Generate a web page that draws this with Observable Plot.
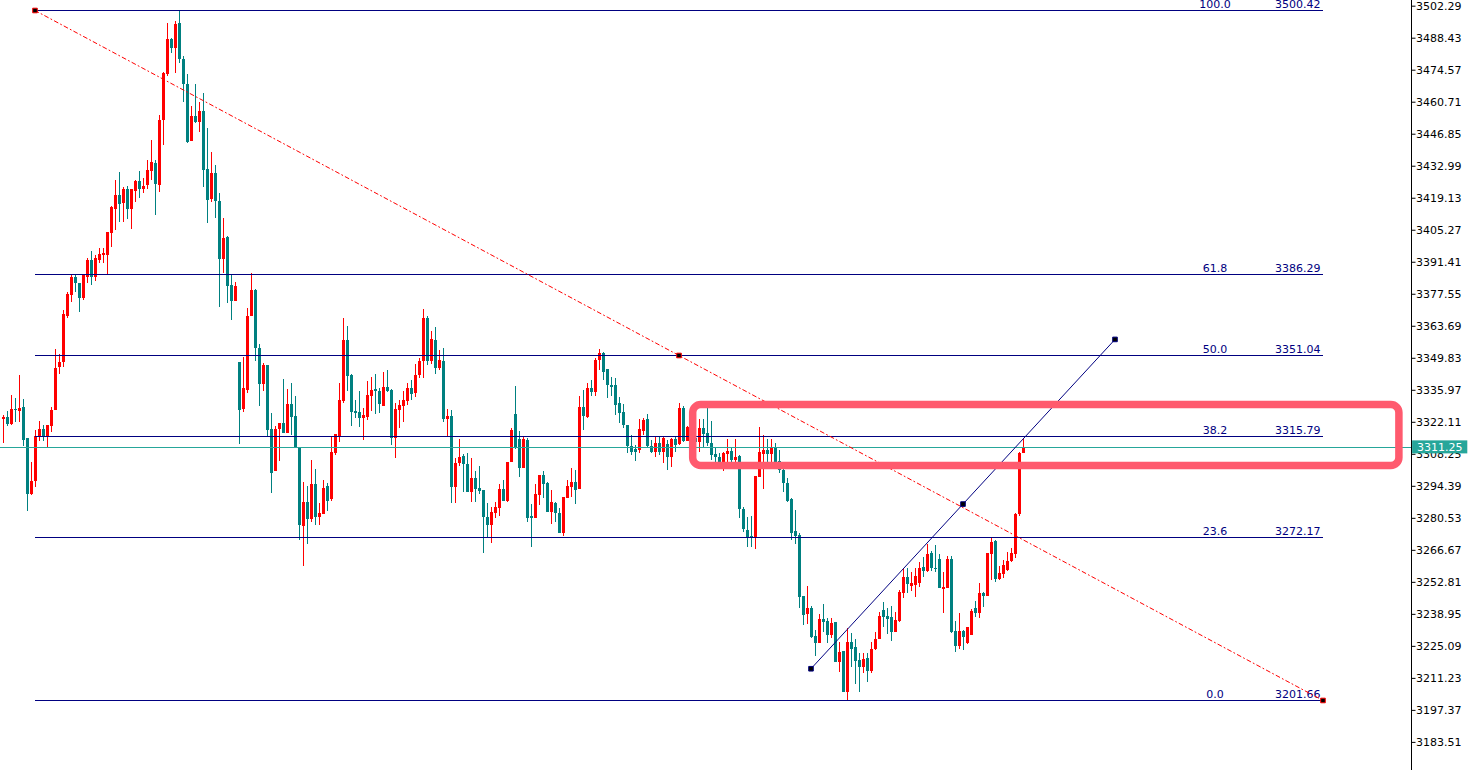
<!DOCTYPE html>
<html>
<head>
<meta charset="utf-8">
<script src="https://cdn.jsdelivr.net/npm/d3@7"></script>
<script src="https://cdn.jsdelivr.net/npm/@observablehq/plot@0.6"></script>
<style>
  html, body { margin: 0; padding: 0; background: #ffffff; overflow: hidden; }
  #chart svg { display: block; }
</style>
</head>
<body>
<div id="chart"></div>
<script>
// ---- Candle data (index = bar number, prices) ----
const open = [
3323.32,3324.19,3321.16,3327.65,3326.79,3328.52,3315.10,3290.85,3296.48,3315.96,
3318.99,3315.96,3320.29,3327.22,3345.84,3348.00,3367.92,3377.01,3384.81,3382.21,
3375.72,3384.81,3392.17,3384.81,3392.17,3394.34,3394.34,3403.86,3414.25,3420.32,
3416.85,3422.91,3414.25,3422.05,3426.38,3422.91,3424.64,3430.71,3434.17,3424.64,
3452.79,3472.71,3487.86,3483.97,3494.79,3479.20,3468.38,3443.70,3454.52,3451.92,
3456.69,3431.57,3418.58,3429.84,3417.72,3392.60,3402.13,3381.35,3374.42,3348.00,
3327.65,3335.88,3367.92,3379.18,3354.07,3338.48,3346.71,3318.99,3300.81,3318.99,
3321.59,3317.26,3329.82,3324.62,3311.20,3277.00,3287.38,3280.02,3295.18,3280.89,
3282.19,3294.31,3288.68,3308.60,3315.53,3331.12,3357.53,3342.38,3326.79,3326.35,
3323.76,3324.19,3333.28,3336.31,3335.45,3328.95,3337.18,3335.88,3315.10,3327.22,
3328.95,3331.12,3336.75,3334.58,3342.38,3348.44,3367.06,3348.44,3357.53,3345.41,
3348.44,3323.32,3324.62,3293.88,3304.27,3307.30,3303.84,3291.71,3297.78,3293.45,
3292.58,3280.89,3277.43,3282.62,3284.79,3293.01,3287.82,3304.70,3325.49,3314.66,
3302.11,3314.23,3281.32,3280.46,3290.42,3299.08,3295.61,3283.05,3286.95,3282.62,
3273.96,3289.12,3293.88,3296.04,3293.01,3328.52,3324.19,3336.75,3335.01,3348.87,
3351.90,3344.97,3338.05,3338.05,3330.25,3326.35,3320.73,3311.63,3310.33,3309.90,
3318.13,3323.32,3311.63,3309.03,3312.93,3309.03,3312.50,3306.87,3314.66,3312.50,
3328.09,3313.80,3319.86,3315.10,3313.36,3319.43,3317.26,3312.93,3308.17,3306.87,
3304.70,3308.17,3309.47,3305.57,3307.30,3284.35,3275.26,3272.66,3272.23,3298.21,
3308.17,3309.90,3308.17,3311.20,3305.14,3301.24,3295.61,3288.68,3274.82,3273.10,
3246.68,3238.89,3241.49,3229.36,3226.33,3236.72,3235.86,3229.80,3235.42,3218.10,
3222.87,3205.11,3226.76,3224.60,3218.97,3215.94,3219.84,3214.21,3223.73,3228.06,
3240.62,3238.02,3237.59,3231.09,3235.86,3247.98,3254.91,3251.01,3251.44,3252.31,
3259.24,3257.51,3265.30,3258.81,3262.70,3249.71,3250.15,3262.70,3231.53,3225.03,
3231.53,3226.33,3229.80,3241.49,3239.32,3247.98,3246.68,3264.87,3270.50,3254.04,
3256.21,3257.94,3261.84,3264.87,3282.19,3308.60
];
const high = [
3325.06,3326.79,3333.72,3332.42,3342.38,3331.98,3315.10,3304.70,3318.56,3322.46,
3320.73,3320.73,3328.52,3353.63,3351.47,3370.52,3378.31,3385.68,3385.68,3382.21,
3386.11,3393.04,3396.07,3394.34,3397.37,3397.37,3404.29,3415.55,3426.81,3430.27,
3423.78,3424.21,3422.91,3426.81,3430.71,3427.68,3435.47,3444.13,3435.47,3454.96,
3473.57,3494.79,3488.30,3495.66,3500.42,3480.50,3472.71,3458.85,3468.38,3460.58,
3464.48,3449.33,3438.93,3433.31,3421.18,3410.36,3402.56,3385.68,3382.64,3348.00,
3350.17,3371.39,3386.54,3379.61,3355.80,3347.57,3346.71,3325.92,3320.29,3321.59,
3340.64,3336.31,3338.91,3333.28,3311.20,3296.04,3294.31,3305.57,3301.67,3286.95,
3296.91,3295.61,3315.96,3316.83,3338.91,3367.06,3363.59,3342.81,3331.55,3335.45,
3328.09,3339.78,3341.51,3342.81,3336.75,3343.67,3344.54,3336.31,3330.25,3331.55,
3335.45,3338.91,3340.21,3347.14,3349.74,3370.95,3367.92,3361.43,3363.16,3353.20,
3354.07,3327.65,3327.22,3306.44,3314.66,3308.17,3308.60,3306.44,3300.81,3302.97,
3292.58,3286.95,3285.22,3287.38,3295.18,3296.91,3304.70,3319.43,3337.61,3318.13,
3315.53,3315.10,3286.52,3295.18,3299.08,3300.81,3296.04,3292.58,3287.38,3284.79,
3289.55,3296.91,3302.11,3301.24,3333.28,3335.88,3338.91,3340.21,3349.74,3353.63,
3352.33,3344.97,3341.51,3341.08,3332.85,3329.82,3320.73,3316.40,3312.07,3323.32,
3323.76,3325.49,3314.23,3315.53,3315.53,3315.53,3314.23,3315.10,3315.53,3330.25,
3328.95,3320.29,3322.89,3318.56,3323.32,3323.32,3328.09,3322.46,3310.77,3308.60,
3309.03,3314.66,3311.20,3314.66,3307.74,3285.22,3280.89,3281.32,3298.64,3319.86,
3316.40,3314.66,3314.66,3312.93,3309.90,3302.11,3297.78,3289.12,3283.92,3273.96,
3246.68,3251.01,3242.35,3231.96,3238.89,3243.22,3237.16,3237.16,3235.42,3226.76,
3222.87,3232.83,3230.66,3228.06,3222.00,3222.00,3222.00,3226.76,3231.09,3239.75,
3244.08,3241.49,3242.35,3239.75,3249.28,3258.81,3258.81,3257.07,3258.81,3261.40,
3263.57,3269.20,3266.17,3268.77,3264.87,3257.07,3264.00,3264.00,3235.86,3239.32,
3231.96,3233.26,3241.05,3244.52,3252.31,3248.41,3265.30,3272.23,3270.93,3259.67,
3262.27,3265.73,3267.47,3282.62,3309.03,3314.66
];
const low = [
3312.93,3320.29,3320.73,3322.02,3322.02,3311.63,3283.49,3290.42,3293.88,3313.80,
3313.80,3311.20,3317.69,3327.22,3342.81,3345.84,3367.06,3373.98,3378.31,3369.65,
3374.85,3382.21,3381.35,3383.08,3390.87,3390.87,3386.11,3397.80,3405.16,3408.62,
3408.62,3409.92,3405.59,3417.28,3419.02,3421.18,3422.91,3426.81,3411.66,3421.61,
3441.97,3471.84,3481.80,3473.14,3477.47,3460.58,3442.83,3443.70,3451.49,3447.59,
3423.78,3408.19,3417.28,3410.36,3371.82,3386.54,3373.55,3366.19,3374.42,3312.50,
3326.35,3334.58,3367.92,3348.44,3328.95,3335.45,3315.53,3291.28,3300.81,3305.14,
3317.26,3317.26,3316.40,3310.77,3270.93,3259.67,3269.20,3278.72,3277.43,3277.43,
3282.19,3283.49,3287.82,3307.74,3313.36,3330.25,3335.45,3320.29,3323.76,3319.86,
3314.23,3322.89,3326.79,3325.49,3325.92,3328.95,3335.01,3312.07,3306.44,3319.43,
3322.02,3329.39,3331.55,3332.85,3341.08,3341.08,3346.71,3347.14,3342.81,3344.54,
3322.02,3315.53,3286.95,3286.95,3302.97,3291.71,3291.71,3287.38,3287.38,3290.85,
3265.30,3272.23,3269.63,3280.46,3281.32,3287.82,3287.38,3304.70,3310.33,3298.21,
3302.11,3278.72,3267.90,3280.46,3286.09,3289.12,3283.05,3277.86,3278.72,3273.96,
3272.66,3289.12,3289.55,3286.52,3293.01,3318.56,3323.76,3333.28,3333.28,3344.54,
3340.21,3332.42,3333.28,3325.06,3321.59,3319.43,3308.60,3307.74,3305.14,3308.60,
3316.40,3311.20,3308.60,3306.87,3307.74,3304.27,3301.24,3302.54,3309.03,3312.07,
3313.36,3313.80,3312.50,3311.63,3309.03,3311.20,3311.63,3305.57,3304.70,3303.41,
3300.81,3304.70,3304.27,3304.27,3280.46,3274.39,3267.90,3267.90,3267.03,3298.21,
3293.01,3303.41,3303.41,3303.41,3299.94,3291.71,3287.38,3270.93,3269.20,3241.49,
3234.13,3234.56,3228.50,3220.70,3226.33,3231.09,3226.33,3228.50,3218.10,3213.77,
3205.11,3201.66,3215.94,3208.58,3205.11,3213.34,3209.44,3213.34,3223.30,3228.06,
3233.26,3230.23,3227.20,3231.09,3235.42,3245.82,3247.98,3248.85,3246.25,3250.58,
3254.91,3257.07,3257.51,3257.07,3250.15,3239.32,3250.15,3230.66,3222.43,3223.73,
3223.30,3225.90,3229.80,3237.59,3237.16,3241.92,3246.68,3253.61,3252.74,3253.61,
3254.48,3257.51,3261.40,3263.14,3281.32,3308.60
];
const close = [
3324.19,3321.16,3327.65,3327.22,3328.09,3314.23,3290.85,3296.48,3315.96,3318.99,
3315.96,3320.73,3327.22,3345.41,3348.00,3368.79,3377.45,3384.81,3382.21,3375.72,
3385.68,3392.17,3384.81,3393.04,3394.77,3395.20,3404.29,3415.12,3420.32,3416.42,
3422.91,3414.25,3422.91,3426.38,3422.91,3424.21,3431.14,3434.60,3425.08,3452.79,
3473.14,3487.86,3483.97,3494.36,3479.20,3468.38,3443.26,3454.52,3451.92,3456.69,
3431.14,3418.15,3429.84,3417.72,3392.60,3401.70,3380.91,3374.42,3380.91,3327.22,
3336.75,3367.92,3379.18,3354.07,3338.48,3346.71,3318.56,3299.94,3318.99,3321.59,
3317.26,3329.82,3324.19,3310.77,3277.43,3287.38,3280.02,3295.18,3280.89,3282.62,
3293.45,3287.82,3309.03,3316.83,3331.55,3357.53,3341.94,3326.35,3325.92,3323.76,
3325.06,3333.72,3335.88,3335.45,3329.82,3337.18,3335.45,3315.10,3327.65,3329.39,
3331.55,3336.75,3334.15,3342.38,3348.44,3367.06,3348.44,3357.96,3345.41,3348.87,
3323.32,3324.62,3293.88,3304.27,3306.87,3303.84,3291.71,3297.78,3293.01,3292.15,
3280.89,3277.43,3283.05,3285.22,3293.01,3287.82,3304.70,3318.56,3310.77,3302.11,
3314.66,3280.46,3280.46,3290.85,3299.08,3295.18,3283.05,3287.38,3282.62,3273.96,
3289.55,3294.31,3296.04,3292.58,3328.52,3324.62,3336.75,3335.01,3348.87,3351.90,
3343.67,3338.05,3337.18,3329.39,3325.92,3320.73,3311.63,3309.03,3309.03,3318.99,
3322.89,3311.63,3309.03,3312.93,3309.03,3315.10,3306.87,3314.66,3312.07,3328.09,
3313.80,3319.86,3315.10,3313.36,3319.43,3316.83,3312.93,3307.74,3306.87,3304.70,
3308.60,3309.47,3305.57,3306.87,3284.35,3275.69,3272.23,3271.80,3298.64,3309.03,
3309.90,3308.17,3310.77,3304.70,3301.24,3295.61,3287.82,3273.96,3272.66,3246.25,
3238.46,3241.49,3228.93,3226.33,3236.72,3235.42,3229.80,3234.99,3218.10,3222.43,
3205.11,3226.76,3223.73,3218.54,3215.94,3219.40,3214.21,3223.73,3228.06,3238.02,
3237.59,3236.72,3231.09,3236.29,3248.41,3254.91,3251.88,3252.31,3255.34,3258.81,
3257.51,3264.87,3258.81,3258.37,3250.15,3250.58,3262.70,3231.09,3225.03,3231.53,
3228.93,3233.26,3240.19,3239.32,3247.98,3246.68,3265.30,3270.06,3254.04,3256.64,
3260.11,3261.84,3265.30,3282.19,3308.60,3311.25
];

// ---- Fibonacci retracement ----
const fibLevels = ["100.0", "61.8", "50.0", "38.2", "23.6", "0.0"];
const fibPrices = [3500.42, 3386.29, 3351.04, 3315.79, 3272.17, 3201.66];
const fibStartBar = 8, fibEndBar = 330;

// ---- Trend lines (anchor bars and prices) ----
const trendBars = [8, 169, 330];
const trendPrices = [3500.42, 3351.04, 3201.66];
const channelBars = [202, 240, 278];
const channelPrices = [3215.40, 3286.70, 3358.00];

// ---- Highlight box (bars and prices) ----
const boxBars = [172.55, 349.1];
const boxPrices = [3303.2, 3329.6];

// ---- Price axis ----
const priceTicks = [3502.29,3488.43,3474.57,3460.71,3446.85,3432.99,3419.13,3405.27,3391.41,3377.55,
  3363.69,3349.83,3335.97,3322.11,3308.25,3294.39,3280.53,3266.67,3252.81,3238.95,3225.09,3211.23,3197.37,3183.51];
const lastPrice = 3311.25;

const n = open.length;
if (high.length !== n || low.length !== n || close.length !== n) {
  throw new Error("length mismatch " + [open.length, high.length, low.length, close.length].join(","));
}

const bars = d3.range(n).map(i => ({i, o: open[i], h: high[i], l: low[i], c: close[i]}));
const upBars = bars.filter(d => d.c >= d.o);
const downBars = bars.filter(d => d.c < d.o);
const fib = fibLevels.map((lv, k) => ({level: lv, price: fibPrices[k]}));
const trend = trendBars.map((b, k) => ({b, p: trendPrices[k]}));
const channel = channelBars.map((b, k) => ({b, p: channelPrices[k]}));

const RED = "#ff0000", TEAL = "#008080", NAVY = "#000080", TAG = "#26a69a", BOX = "#ff5a6e";

const chart = Plot.plot({
  width: 1481,
  height: 770,
  marginLeft: 0, marginRight: 70.5, marginTop: 0, marginBottom: 0,
  x: {domain: [-0.625, 352], range: [0, 1410.5], axis: null},
  y: {domain: [3171.34, 3504.75], range: [770, 0], axis: null},
  style: {background: "#ffffff", fontFamily: "DejaVu Sans, sans-serif", fontSize: "11px", overflow: "visible"},
  marks: [
    // wicks
    Plot.ruleX(upBars, {x: "i", y1: "l", y2: "h", stroke: RED, strokeWidth: 1, shapeRendering: "crispEdges"}),
    Plot.ruleX(downBars, {x: "i", y1: "l", y2: "h", stroke: TEAL, strokeWidth: 1, shapeRendering: "crispEdges"}),
    // bodies
    Plot.ruleX(upBars, {x: "i", y1: "o", y2: "c", stroke: RED, strokeWidth: 3, strokeLinecap: "butt", shapeRendering: "crispEdges"}),
    Plot.ruleX(downBars, {x: "i", y1: "o", y2: "c", stroke: TEAL, strokeWidth: 3, strokeLinecap: "butt", shapeRendering: "crispEdges"}),
    // current price line
    Plot.ruleY([lastPrice], {x1: -0.625, x2: 352, stroke: TAG, strokeWidth: 1, shapeRendering: "crispEdges"}),
    // fib lines
    Plot.ruleY(fib, {y: "price", x1: fibStartBar, x2: fibEndBar, stroke: NAVY, strokeWidth: 1, shapeRendering: "crispEdges"}),
    Plot.text(fib, {x: 303, y: "price", text: "level", fill: NAVY, textAnchor: "middle", lineAnchor: "bottom", dy: -2.5, fontSize: 11}),
    Plot.text(fib, {x: 329.4, y: "price", text: d => d.price.toFixed(2), fill: NAVY, textAnchor: "end", lineAnchor: "bottom", dy: -2.5, fontSize: 11}),
    // red dash-dot trend line
    Plot.line(trend, {x: "b", y: "p", stroke: RED, strokeWidth: 1, strokeDasharray: "4,3,1,3"}),
    // blue trend line
    Plot.line(channel, {x: "b", y: "p", stroke: NAVY, strokeWidth: 1}),
    // anchor markers
    Plot.dot(trend, {x: "b", y: "p", symbol: "square", r: 2.6, fill: "#000000", stroke: RED, strokeWidth: 1}),
    Plot.dot(channel, {x: "b", y: "p", symbol: "square", r: 2.6, fill: "#000000", stroke: NAVY, strokeWidth: 1}),
    // highlight box
    Plot.rect([0], {x1: boxBars[0], x2: boxBars[1], y1: boxPrices[0], y2: boxPrices[1], fill: "none", stroke: BOX, strokeWidth: 7.5, rx: 8}),
    // price axis
    Plot.ruleX([352], {stroke: "#000000", strokeWidth: 1, shapeRendering: "crispEdges"}),
    Plot.axisY(priceTicks, {anchor: "right", tickSize: 4, tickPadding: 1, tickFormat: d => d.toFixed(2), fontSize: 11, color: "#000000"}),
    // last price tag
    Plot.rect([lastPrice], {x1: 352.4, x2: 366.2, y1: d => d - 2.82, y2: d => d + 2.82, fill: TAG}),
    Plot.text([lastPrice], {x: 353.5, y: d => d, text: d => d.toFixed(2), fill: "#ffffff", textAnchor: "start", fontSize: 11})
  ]
});
document.getElementById("chart").appendChild(chart);
</script>
</body>
</html>
